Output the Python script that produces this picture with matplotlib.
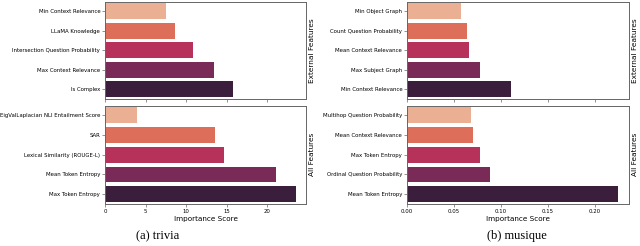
import matplotlib
matplotlib.use("Agg")
import matplotlib.pyplot as plt

# Data
trivia_ext_labels = ["Min Context Relevance", "LLaMA Knowledge", "Intersection Question Probability",
                     "Max Context Relevance", "Is Complex"]
trivia_ext_values = [7.5, 8.6, 10.9, 13.4, 15.8]
trivia_all_labels = ["EigValLaplacian NLI Entailment Score", "SAR", "Lexical Similarity (ROUGE-L)",
                     "Mean Token Entropy", "Max Token Entropy"]
trivia_all_values = [3.9, 13.5, 14.7, 21.1, 23.6]

musique_ext_labels = ["Min Object Graph", "Count Question Probability", "Mean Context Relevance",
                      "Max Subject Graph", "Min Context Relevance"]
musique_ext_values = [0.0577, 0.0641, 0.0655, 0.0772, 0.111]
musique_all_labels = ["Multihop Question Probability", "Mean Context Relevance", "Max Token Entropy",
                      "Ordinal Question Probability", "Mean Token Entropy"]
musique_all_values = [0.0684, 0.0705, 0.0779, 0.0885, 0.225]

colors = ["#ebb093", "#dd6e59", "#b7325a", "#7a2a56", "#3b1e3c"]
captions = ["(a) trivia", "(b) musique"]

W, H = 640, 246
fig = plt.figure(figsize=(W / 100, H / 100), dpi=100)

def rect(x0, y0, x1, y1):
    return [x0 / W, 1 - y1 / H, (x1 - x0) / W, (y1 - y0) / H]

panels = [
    (105, 306, trivia_ext_labels, trivia_ext_values, trivia_all_labels, trivia_all_values, 158),
    (407, 629, musique_ext_labels, musique_ext_values, musique_all_labels, musique_all_values, 517),
]
tick_fs = 3.9
spine_c = "#666666"
for i, (x0, x1, el, ev, al, av, cx) in enumerate(panels):
    ax_top = fig.add_axes(rect(x0, 1.5, x1, 99))
    ax_bot = fig.add_axes(rect(x0, 105.5, x1, 204), sharex=ax_top)
    for ax, labs, vals, yl in [(ax_top, el, ev, "External Features"), (ax_bot, al, av, "All Features")]:
        ypos = list(range(len(labs)))
        ax.barh(ypos, vals, height=0.8, color=colors)
        ax.set_yticks(ypos)
        ax.set_yticklabels(labs)
        ax.set_ylim(len(labs) - 0.5, -0.5)
        ax.yaxis.set_label_position("right")
        ax.set_ylabel(yl, fontsize=5.3, labelpad=2)
        ax.tick_params(labelsize=tick_fs, length=2, width=0.5, pad=1.5, color=spine_c)
        for s in ax.spines.values():
            s.set_color(spine_c)
            s.set_linewidth(0.7)
    plt.setp(ax_top.get_xticklabels(), visible=False)
    ax_bot.set_xlabel("Importance Score", fontsize=5.2, labelpad=1.5)
    fig.text(cx / W, 1 - 236 / H, captions[i], ha="center", va="center",
             fontsize=9, family="Liberation Serif")

fig.savefig("out.png", dpi=100)
